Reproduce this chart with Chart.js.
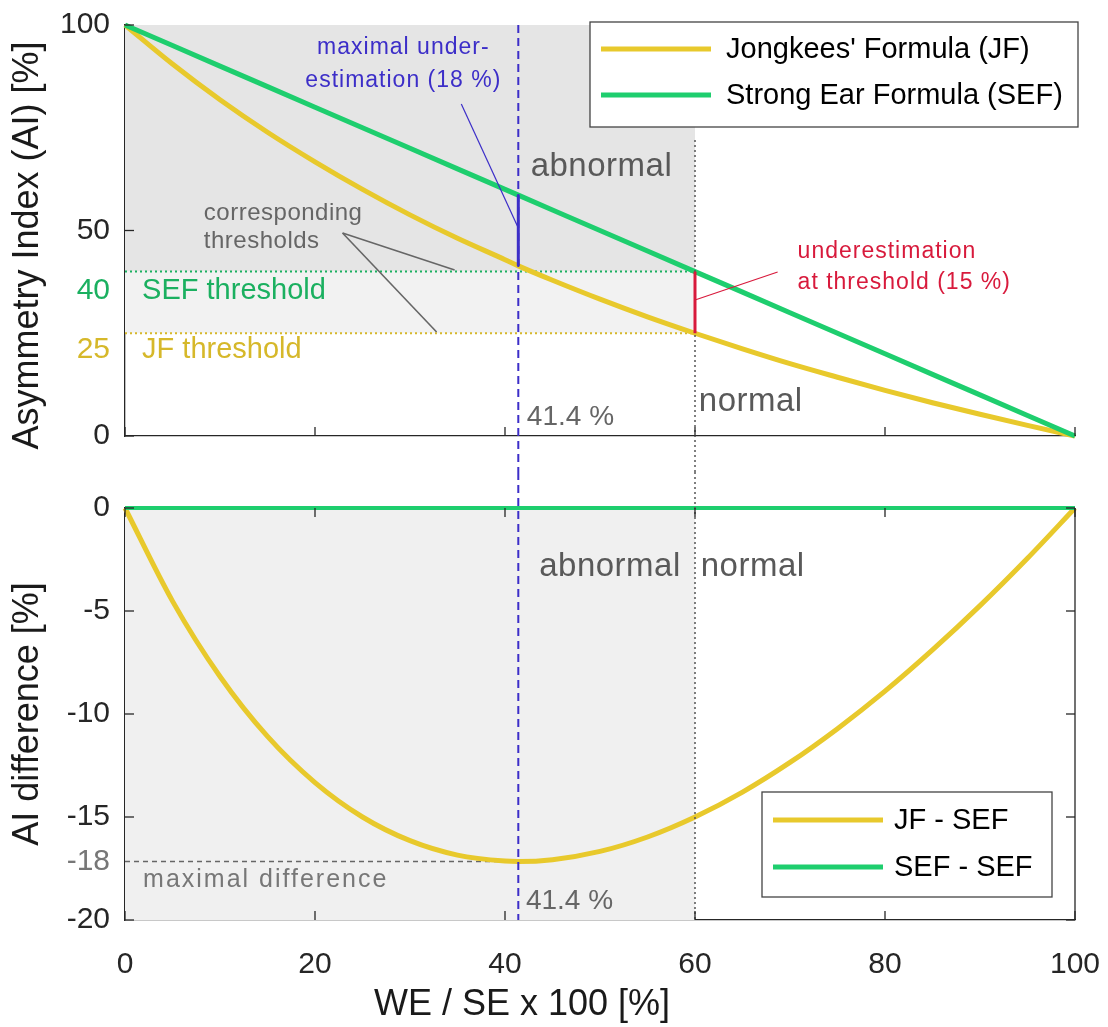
<!DOCTYPE html>
<html>
<head>
<meta charset="utf-8">
<script src="https://cdn.jsdelivr.net/npm/chart.js@4.4.1/dist/chart.umd.min.js"></script>
<style>
    body { margin: 0; background: #fff; }
    #contenedor { position: relative; width: 1108px; height: 1027px; }
    canvas { position: absolute; left: 0; }
    #graficoArriba { top: 0; }
    #graficoAbajo { top: 472px; }
</style>
</head>
<body>
<div id="contenedor">
    <canvas id="graficoArriba" width="1108" height="472"></canvas>
    <canvas id="graficoAbajo" width="1108" height="555"></canvas>
</div>
<script>
// WE / SE x 100 [%]
const relacionWE = [0, 5, 10, 15, 20, 25, 30, 35, 40, 41.4, 45, 50, 55, 60, 65, 70, 75, 80, 85, 90, 95, 100];
// Asymmetry Index (AI) [%]
const indiceJF = [100, 90.5, 81.8, 73.9, 66.7, 60, 53.8, 48.1, 42.9, 41.4, 37.9, 33.3, 29, 25, 21.2, 17.6, 14.3, 11.1, 8.1, 5.3, 2.6, 0];
const indiceSEF = [100, 95, 90, 85, 80, 75, 70, 65, 60, 58.6, 55, 50, 45, 40, 35, 30, 25, 20, 15, 10, 5, 0];
// AI difference [%]
const diferenciaJF = [0, -4.52, -8.18, -11.09, -13.33, -15, -16.15, -16.85, -17.14, -17.16, -17.07, -16.67, -15.97, -15, -13.79, -12.35, -10.71, -8.89, -6.89, -4.74, -2.44, 0];
const diferenciaSEF = [0, 0, 0, 0, 0, 0, 0, 0, 0, 0, 0, 0, 0, 0, 0, 0, 0, 0, 0, 0, 0, 0];

const leyendaArriba = ["Jongkees' Formula (JF)", 'Strong Ear Formula (SEF)'];
const leyendaAbajo = ['JF - SEF', 'SEF - SEF'];

const umbralSEF = 40;
const umbralJF = 25;
const limiteNormal = 60;
const puntoMaximo = 41.4;

const amarillo = '#e8c92c';
const verde = '#1ece6e';
const azul = '#3c2ec8';
const rojo = '#d81a3c';
const gris = '#666666';
const negro = '#262626';
const fuente = '"Liberation Sans", Arial, sans-serif';

Chart.defaults.font.family = fuente;
Chart.defaults.color = negro;

function puntos(xs, ys) {
    return xs.map((x, i) => ({ x: x, y: ys[i] }));
}

function linea(ctx, x1, y1, x2, y2, color, ancho, guiones) {
    ctx.save();
    ctx.strokeStyle = color;
    ctx.lineWidth = ancho;
    ctx.setLineDash(guiones || []);
    ctx.beginPath();
    ctx.moveTo(x1, y1);
    ctx.lineTo(x2, y2);
    ctx.stroke();
    ctx.restore();
}

function texto(ctx, cadena, x, y, color, tam, alinear, espaciado) {
    ctx.save();
    ctx.font = `${tam}px ${fuente}`;
    ctx.fillStyle = color;
    ctx.textAlign = alinear || 'left';
    ctx.textBaseline = 'middle';
    ctx.letterSpacing = (espaciado || 0) + 'px';
    ctx.fillText(cadena, x, y);
    ctx.restore();
}

function marcas(ctx, escala, lado, area) {
    escala.ticks.forEach(t => {
        const p = escala.getPixelForValue(t.value);
        if (lado === 'abajo') linea(ctx, p, area.bottom, p, area.bottom - 9, negro, 1.3);
        if (lado === 'arriba') linea(ctx, p, area.top, p, area.top + 9, negro, 1.3);
        if (lado === 'izquierda') linea(ctx, area.left, p, area.left + 9, p, negro, 1.3);
        if (lado === 'derecha') linea(ctx, area.right, p, area.right - 9, p, negro, 1.3);
    });
}

function dibujarLeyenda(ctx, izq, arriba, ancho, alto, textos, colores, filas, sangria) {
    ctx.save();
    ctx.fillStyle = '#fff';
    ctx.fillRect(izq, arriba, ancho, alto);
    ctx.strokeStyle = '#444';
    ctx.lineWidth = 1.3;
    ctx.strokeRect(izq, arriba, ancho, alto);
    ctx.restore();
    textos.forEach((t, i) => {
        const yy = arriba + filas[i];
        linea(ctx, izq + 11, yy, izq + 121, yy, colores[i], 5);
        texto(ctx, t, izq + sangria, yy + 1, '#000', 29);
    });
}

const decoracionArriba = {
    id: 'decoracionArriba',
    beforeDatasetsDraw(chart) {
        const { ctx, scales: { x, y } } = chart;
        const x0 = x.getPixelForValue(0);
        const x60 = x.getPixelForValue(limiteNormal);
        ctx.save();
        ctx.fillStyle = '#e5e5e5';
        ctx.fillRect(x0, y.getPixelForValue(100), x60 - x0, y.getPixelForValue(umbralSEF) - y.getPixelForValue(100));
        ctx.fillStyle = '#f2f2f2';
        ctx.fillRect(x0, y.getPixelForValue(umbralSEF), x60 - x0, y.getPixelForValue(umbralJF) - y.getPixelForValue(umbralSEF));
        ctx.restore();
        linea(ctx, x0, y.getPixelForValue(umbralSEF), x60, y.getPixelForValue(umbralSEF), '#1bb060', 2, [2, 3]);
        linea(ctx, x0, y.getPixelForValue(umbralJF), x60, y.getPixelForValue(umbralJF), '#d6b82a', 2, [2, 3]);
    },
    afterDatasetsDraw(chart) {
        const { ctx, chartArea: a, scales: { x, y } } = chart;
        const px = v => x.getPixelForValue(v);
        const py = v => y.getPixelForValue(v);
        const i = relacionWE.indexOf(puntoMaximo);

        linea(ctx, px(puntoMaximo), py(100), px(puntoMaximo), chart.height, azul, 2, [8, 5]);
        linea(ctx, px(limiteNormal), py(72), px(limiteNormal), chart.height, '#555', 1.5, [2, 3]);
        linea(ctx, px(puntoMaximo), py(indiceSEF[i]), px(puntoMaximo), py(indiceJF[i]), azul, 3);
        linea(ctx, px(limiteNormal), py(umbralSEF), px(limiteNormal), py(umbralJF), rojo, 3);

        // lineas de referencia de los textos
        linea(ctx, px(35.4), py(80.8), px(41.4), py(50.6), azul, 1.2);
        linea(ctx, px(22.9), py(49.4), px(34.7), py(40.4), gris, 1.6);
        linea(ctx, px(22.9), py(49.4), px(32.8), py(25.3), gris, 1.6);
        linea(ctx, px(60), py(33.1), px(68.7), py(39.9), rojo, 1.2);

        texto(ctx, 'maximal under-', px(29.3), py(94.4), azul, 23, 'center', 1);
        texto(ctx, 'estimation (18 %)', px(29.3), py(86.4), azul, 23, 'center', 1);
        texto(ctx, 'abnormal', px(42.7), py(65.4), '#595959', 33, 'left', 0.5);
        texto(ctx, 'normal', px(60.4), py(8.3), '#595959', 33, 'left', 0.5);
        texto(ctx, '41.4 %', px(42.3), py(4.6), gris, 28);
        texto(ctx, 'corresponding', px(8.3), py(54.2), gris, 24, 'left', 0.5);
        texto(ctx, 'thresholds', px(8.3), py(47.4), gris, 24, 'left', 0.5);
        texto(ctx, 'SEF threshold', px(1.8), py(35.3), '#1bb060', 29);
        texto(ctx, 'JF threshold', px(1.8), py(20.9), '#d6b82a', 29);
        texto(ctx, '40', a.left - 15, py(35.3), '#1bb060', 30, 'right');
        texto(ctx, '25', a.left - 15, py(20.9), '#d6b82a', 30, 'right');
        texto(ctx, 'underestimation', px(70.8), py(44.8), rojo, 23, 'left', 1);
        texto(ctx, 'at threshold (15 %)', px(70.8), py(37.2), rojo, 23, 'left', 1);

        marcas(ctx, x, 'abajo', a);
        marcas(ctx, y, 'izquierda', a);

        dibujarLeyenda(ctx, a.right - 485, a.top - 3, 488, 105, leyendaArriba, [amarillo, verde], [27, 73], 136);
    }
};

const decoracionAbajo = {
    id: 'decoracionAbajo',
    beforeDatasetsDraw(chart) {
        const { ctx, chartArea: a, scales: { x, y } } = chart;
        const x0 = x.getPixelForValue(0);
        ctx.save();
        ctx.fillStyle = '#f0f0f0';
        ctx.fillRect(x0, a.top, x.getPixelForValue(limiteNormal) - x0, a.bottom - a.top);
        ctx.restore();
        const minimo = Math.min(...diferenciaJF);
        linea(ctx, x0, y.getPixelForValue(minimo), x.getPixelForValue(puntoMaximo), y.getPixelForValue(minimo), gris, 1.3, [5, 4]);
    },
    afterDatasetsDraw(chart) {
        const { ctx, chartArea: a, scales: { x, y } } = chart;
        const px = v => x.getPixelForValue(v);
        const py = v => y.getPixelForValue(v);
        const minimo = Math.min(...diferenciaJF);

        linea(ctx, px(puntoMaximo), 0, px(puntoMaximo), a.bottom, azul, 2, [8, 5]);
        linea(ctx, px(limiteNormal), 0, px(limiteNormal), a.bottom, '#555', 1.5, [2, 3]);
        linea(ctx, a.right, a.top, a.right, a.bottom, negro, 1.3);

        texto(ctx, 'abnormal', px(43.6), py(-2.86), '#595959', 33, 'left', 0.5);
        texto(ctx, 'normal', px(60.6), py(-2.86), '#595959', 33, 'left', 0.5);
        texto(ctx, '41.4 %', px(42.2), py(-19.1), gris, 28);
        texto(ctx, 'maximal difference', px(1.9), py(-18.06), '#777', 25, 'left', 2);
        texto(ctx, '-18', a.left - 15, py(minimo), '#777', 30, 'right');

        marcas(ctx, x, 'abajo', a);
        marcas(ctx, x, 'arriba', a);
        marcas(ctx, y, 'izquierda', a);
        marcas(ctx, y, 'derecha', a);

        dibujarLeyenda(ctx, a.right - 313, a.bottom - 128, 290, 105, leyendaAbajo, [amarillo, verde], [28, 75], 132);
    },
    afterDraw(chart) {
        const a = chart.chartArea;
        // el titulo del eje x esta corrido a la izquierda en el original
        texto(chart.ctx, 'WE / SE x 100 [%]', (a.left + a.right) / 2 - 78, chart.height - 22, '#1a1a1a', 36, 'center');
    }
};

const ejeX = {
    type: 'linear',
    min: 0,
    max: 100,
    grid: { display: false, drawTicks: false },
    border: { color: negro, width: 1.3 }
};

new Chart(document.getElementById('graficoArriba'), {
    type: 'line',
    data: {
        datasets: [
            { label: leyendaArriba[0], data: puntos(relacionWE, indiceJF), borderColor: amarillo, borderWidth: 5, pointRadius: 0, cubicInterpolationMode: 'monotone', clip: false, order: 2 },
            { label: leyendaArriba[1], data: puntos(relacionWE, indiceSEF), borderColor: verde, borderWidth: 5, pointRadius: 0, clip: false, order: 1 }
        ]
    },
    options: {
        responsive: false,
        animation: false,
        layout: { padding: { top: 25, right: 33, left: 0, bottom: 0 } },
        plugins: { legend: { display: false }, tooltip: { enabled: false } },
        scales: {
            x: Object.assign({}, ejeX, {
                ticks: { display: false, stepSize: 20 },
                afterFit: s => { s.height = 36; s.paddingLeft = 0; s.paddingRight = 0; }
            }),
            y: {
                min: 0,
                max: 100,
                grid: { display: false, drawTicks: false },
                border: { color: negro, width: 1.3 },
                ticks: { stepSize: 50, padding: 15, font: { size: 30 }, color: negro },
                title: { display: true, text: 'Asymmetry Index (AI) [%]   ', font: { size: 36 }, color: '#1a1a1a', padding: { top: 6, bottom: 0 } },
                afterFit: s => { s.width = 125; s.paddingTop = 0; s.paddingBottom = 0; }
            }
        }
    },
    plugins: [decoracionArriba]
});

new Chart(document.getElementById('graficoAbajo'), {
    type: 'line',
    data: {
        datasets: [
            { label: leyendaAbajo[0], data: puntos(relacionWE, diferenciaJF), borderColor: amarillo, borderWidth: 5, pointRadius: 0, cubicInterpolationMode: 'monotone', clip: false, order: 2 },
            { label: leyendaAbajo[1], data: puntos(relacionWE, diferenciaSEF), borderColor: verde, borderWidth: 4, pointRadius: 0, clip: false, order: 1 }
        ]
    },
    options: {
        responsive: false,
        animation: false,
        layout: { padding: { top: 36, right: 33, left: 0, bottom: 0 } },
        plugins: { legend: { display: false }, tooltip: { enabled: false } },
        scales: {
            x: Object.assign({}, ejeX, {
                ticks: { stepSize: 20, padding: 27, font: { size: 30 }, color: negro, maxRotation: 0 },
                afterFit: s => { s.height = 107; s.paddingLeft = 0; s.paddingRight = 0; }
            }),
            y: {
                min: -20,
                max: 0,
                grid: { display: false, drawTicks: false },
                border: { color: negro, width: 1.3 },
                ticks: { stepSize: 5, padding: 15, font: { size: 30 }, color: negro },
                title: { display: true, text: 'AI difference [%]', font: { size: 36 }, color: '#1a1a1a', padding: { top: 6, bottom: 0 } },
                afterFit: s => { s.width = 125; s.paddingTop = 0; s.paddingBottom = 0; }
            }
        }
    },
    plugins: [decoracionAbajo]
});
</script>
</body>
</html>
